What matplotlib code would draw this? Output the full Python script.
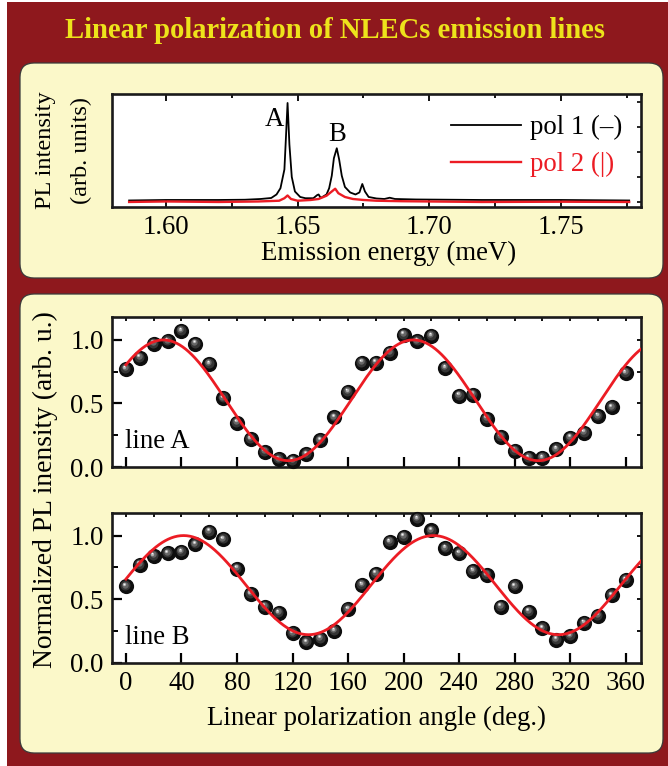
import matplotlib
matplotlib.use("Agg")
import matplotlib.pyplot as plt
import numpy as np
from matplotlib.patches import FancyBboxPatch, Rectangle
from matplotlib.ticker import MultipleLocator, NullFormatter, FormatStrFormatter
from matplotlib.transforms import offset_copy

plt.rcParams["font.family"] = ["Liberation Serif", "DejaVu Serif"]

# PL spectra (emission energy, intensity in arb. units)
energy_pol1 = [1.586, 1.600, 1.620, 1.630, 1.636, 1.640, 1.642, 1.6435, 1.645, 1.6455,
               1.6462, 1.6469, 1.6478, 1.649, 1.651, 1.653, 1.656, 1.6575, 1.658, 1.6588,
               1.661, 1.662, 1.663, 1.6638, 1.6649, 1.6658, 1.6668, 1.668, 1.670, 1.672,
               1.6735, 1.6746, 1.6756, 1.677, 1.680, 1.683, 1.685, 1.687, 1.695, 1.720,
               1.750, 1.776]
intens_pol1 = [0.06, 0.08, 0.08, 0.09, 0.12, 0.16, 0.30, 0.55, 1.30, 2.40,
               3.96, 2.30, 1.00, 0.42, 0.20, 0.15, 0.15, 0.28, 0.30, 0.16,
               0.30, 0.55, 1.05, 1.75, 2.15, 1.70, 1.05, 0.60, 0.38, 0.30,
               0.38, 0.72, 0.42, 0.20, 0.14, 0.12, 0.17, 0.12, 0.10, 0.08,
               0.08, 0.06]

energy_pol2 = [1.586, 1.600, 1.620, 1.635, 1.643, 1.645, 1.6462, 1.6475, 1.650, 1.655,
               1.658, 1.661, 1.663, 1.6643, 1.6655, 1.668, 1.671, 1.675, 1.680, 1.690,
               1.700, 1.720, 1.750, 1.776]
intens_pol2 = [0.00, 0.02, 0.00, 0.02, 0.05, 0.15, 0.26, 0.12, 0.05, 0.08,
               0.12, 0.25, 0.42, 0.53, 0.35, 0.20, 0.12, 0.08, 0.05, 0.03,
               0.02, 0.00, 0.01, 0.00]

# polarization dependence, measured every 10 deg
angle = list(range(0, 361, 10))
norm_A = [0.77, 0.86, 0.97, 0.99, 1.07, 0.97, 0.81, 0.54, 0.35, 0.22,
          0.12, 0.06, 0.05, 0.10, 0.21, 0.39, 0.59, 0.82, 0.82, 0.90,
          1.04, 0.99, 1.03, 0.78, 0.56, 0.57, 0.38, 0.24, 0.13, 0.07,
          0.07, 0.14, 0.23, 0.27, 0.40, 0.47, 0.74]
norm_B = [0.60, 0.77, 0.84, 0.86, 0.87, 0.93, 1.03, 0.97, 0.74, 0.54,
          0.44, 0.39, 0.23, 0.16, 0.19, 0.25, 0.42, 0.61, 0.70, 0.95,
          0.99, 1.13, 1.04, 0.90, 0.86, 0.72, 0.69, 0.44, 0.60, 0.40,
          0.27, 0.18, 0.21, 0.31, 0.37, 0.53, 0.65]

# Malus-law fits: I = Imin + (Imax - Imin) * cos^2(theta - theta0)
fit_imax = {"A": 1.00, "B": 1.00}
fit_imin = {"A": 0.05, "B": 0.22}
fit_theta0 = {"A": 27.0, "B": 41.5}

DARK_RED = "#8e181d"
PANEL = "#fbf8c9"
YELLOW = "#ede31b"
RED = "#ec1c24"
FS = 19.3

fig = plt.figure(figsize=(6.68, 7.66), dpi=100, facecolor="white")
inch = fig.dpi_scale_trans

fig.patches.append(Rectangle((0.07, 0.0), 6.61, 7.64, transform=inch,
                             facecolor=DARK_RED, edgecolor="none", zorder=-3))
for y0, h in [(4.88, 2.15), (0.13, 4.59)]:
    fig.patches.append(FancyBboxPatch((0.20, y0), 6.43, h, transform=inch,
                                      boxstyle="round,pad=0,rounding_size=0.14",
                                      facecolor=PANEL, edgecolor="#3a3a3a",
                                      linewidth=0.9, zorder=-2))

fig.text(0.501, 0.960, "Linear polarization of NLECs emission lines",
         ha="center", va="center", color=YELLOW, fontsize=20.6, fontweight="bold")


def style_spines(ax):
    ax.set_facecolor("white")
    for sp in ax.spines.values():
        sp.set_linewidth(1.9)
        sp.set_color("#1a1a1a")


# ---- spectrum ----
ax0 = fig.add_axes([0.1677, 0.7298, 0.7919, 0.1475])
style_spines(ax0)
ax0.plot(energy_pol1, intens_pol1, color="black", lw=1.3, label="pol 1 (\u2013)")
ax0.plot(energy_pol2, intens_pol2, color=RED, lw=1.7, label="pol 2 (|)")
ax0.set_xlim(1.5795, 1.7805)
ax0.set_ylim(-0.2, 4.32)
ax0.xaxis.set_major_locator(MultipleLocator(0.05))
ax0.xaxis.set_minor_locator(MultipleLocator(0.025))
ax0.xaxis.set_major_formatter(FormatStrFormatter("%.2f"))
ax0.yaxis.set_major_locator(MultipleLocator(1))
ax0.tick_params(axis="x", which="both", direction="in", top=True, labelsize=FS,
                width=1.3, pad=6)
ax0.tick_params(axis="x", which="major", length=5)
ax0.tick_params(axis="x", which="minor", length=3)
ax0.tick_params(axis="y", direction="in", left=False, right=True, labelleft=False,
                length=3, width=1.2)
ax0.text(1.6412, 3.29, "A", fontsize=FS, ha="center", va="center")
ax0.text(1.6649, 2.68, "B", fontsize=FS, ha="center", va="center")
leg = ax0.legend(loc="upper right", bbox_to_anchor=(0.985, 0.91), frameon=False,
                 fontsize=FS, handlelength=2.6, handletextpad=0.35, labelspacing=0.45,
                 borderaxespad=0)
leg.get_texts()[1].set_color(RED)
fig.text(389 / 668, (766 - 253) / 766, "Emission energy (meV)", fontsize=FS,
         ha="center", va="center")
fig.text(46 / 668, (766 - 150) / 766, "PL intensity", fontsize=17.5, rotation=90,
         ha="center", va="center")
fig.text(81 / 668, (766 - 150) / 766, "(arb. units)", fontsize=17.5, rotation=90,
         ha="center", va="center")


# ---- polarization panels ----
def sphere_scatter(ax, x, y, s=120):
    ax.scatter(x, y, s=s, color="#0e0e0e", lw=0, zorder=3, clip_on=False)
    for frac, col, d in [(0.66, "#353535", 0.7), (0.42, "#666666", 1.2),
                         (0.22, "#b0b0b0", 1.7), (0.10, "#f4f4f4", 2.0)]:
        tr = offset_copy(ax.transData, fig=ax.figure, x=-0.6 * d, y=d, units="points")
        ax.scatter(x, y, s=s * frac ** 2, color=col, lw=0, transform=tr, zorder=3,
                   clip_on=False)


def pol_panel(rect, values, key, show_xlabels):
    ax = fig.add_axes(rect)
    style_spines(ax)
    sphere_scatter(ax, angle, values)
    theta = np.linspace(0, 371, 500)
    fit = fit_imin[key] + (fit_imax[key] - fit_imin[key]) * np.cos(
        np.radians(theta - fit_theta0[key])) ** 2
    ax.plot(theta, fit, color=RED, lw=2.0, zorder=4)
    ax.set_xlim(-10, 371)
    ax.set_ylim(0, 1.18)
    ax.xaxis.set_major_locator(MultipleLocator(40))
    ax.yaxis.set_major_locator(MultipleLocator(0.5))
    ax.yaxis.set_minor_locator(MultipleLocator(0.25))
    ax.yaxis.set_major_formatter(FormatStrFormatter("%.1f"))
    ax.tick_params(which="major", direction="in", length=7, width=1.6, labelsize=FS,
                   pad=6)
    ax.tick_params(which="minor", direction="in", length=4, width=1.4)
    if not show_xlabels:
        ax.xaxis.set_major_formatter(NullFormatter())
    top = ax.secondary_xaxis("top")
    top.set_xticks(range(0, 361, 20))
    top.tick_params(direction="in", length=3, width=1.3, labeltop=False)
    top.spines["top"].set_visible(False)
    right = ax.secondary_yaxis("right")
    right.set_yticks([0.25, 0.5, 0.75, 1.0])
    right.tick_params(direction="in", length=3, width=1.3, labelright=False)
    right.spines["right"].set_visible(False)
    ax.text(0.025, 0.17, f"line {key}", transform=ax.transAxes, fontsize=FS,
            ha="left", va="center")
    return ax


pol_panel([0.1677, 0.3903, 0.7919, 0.1958], norm_A, "A", False)
pol_panel([0.1677, 0.1349, 0.7919, 0.1958], norm_B, "B", True)

fig.text(376 / 668, (766 - 718) / 766, "Linear polarization angle (deg.)",
         fontsize=FS, ha="center", va="center")
fig.text(45 / 668, (766 - 490) / 766, "Normalized PL inensity (arb. u.)",
         fontsize=19.8, rotation=90, ha="center", va="center")

fig.savefig("out.png", dpi=100, facecolor=fig.get_facecolor())
